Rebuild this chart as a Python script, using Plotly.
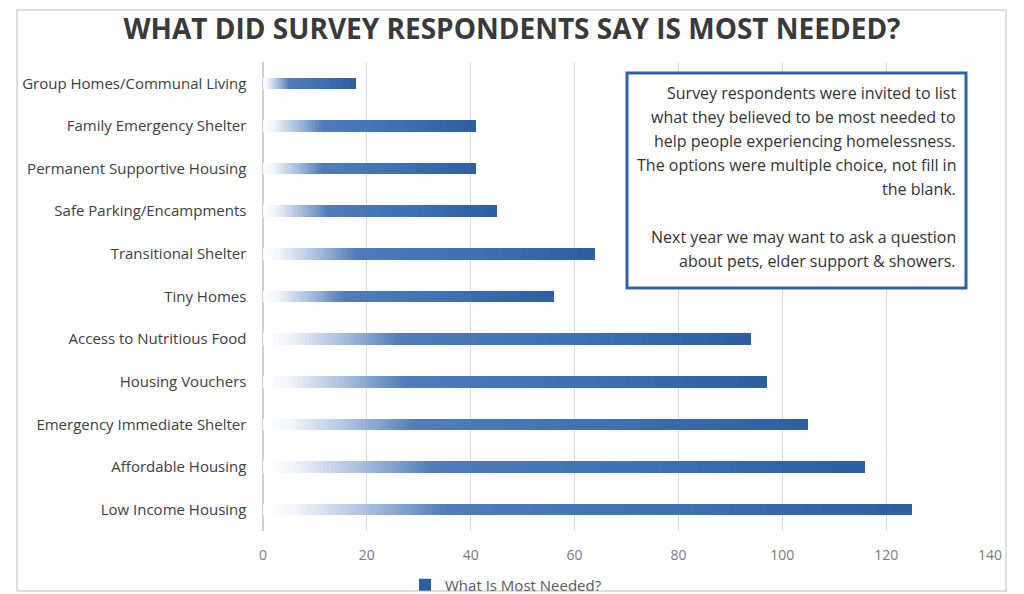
import plotly.graph_objects as go

categories = [
    "Low Income Housing",
    "Affordable Housing",
    "Emergency Immediate Shelter",
    "Housing Vouchers",
    "Access to Nutritious Food",
    "Tiny Homes",
    "Transitional Shelter",
    "Safe Parking/Encampments",
    "Permanent Supportive Housing",
    "Family Emergency Shelter",
    "Group Homes/Communal Living",
]
values = [125, 116, 105, 97, 94, 56, 64, 45, 41, 41, 18]
series_name = "What Is Most Needed?"
x_ticks = [0, 20, 40, 60, 80, 100, 120, 140]

title_text = "WHAT DID SURVEY RESPONDENTS SAY IS MOST NEEDED?"
note_lines = [
    "Survey respondents were invited to list",
    "what they believed to be most needed to",
    "help people experiencing homelessness.",
    "The options were multiple choice, not fill in",
    "the blank.",
    "",
    "Next year we may want to ask a question",
    "about pets, elder support & showers.",
]

# gradient stops (fraction of bar length -> rgb)
stops = [(0.0, (255, 255, 255)), (0.05, (242, 245, 250)), (0.16, (170, 192, 222)),
         (0.28, (80, 125, 186)), (0.6, (66, 114, 180)), (1.0, (44, 94, 160))]


def color_at(f):
    for (f0, c0), (f1, c1) in zip(stops[:-1], stops[1:]):
        if f0 <= f <= f1:
            t = (f - f0) / (f1 - f0) if f1 > f0 else 0
            return tuple(round(a + (b - a) * t) for a, b in zip(c0, c1))
    return stops[-1][1]


edges = [i * 0.3 / 45 for i in range(0, 46)] + [0.3 + i * 0.7 / 25 for i in range(1, 26)]

fig = go.Figure()
for k in range(len(edges) - 1):
    f0, f1 = edges[k], edges[k + 1]
    c = color_at((f0 + f1) / 2)
    last = k == len(edges) - 2
    fig.add_trace(go.Bar(
        y=categories,
        x=[v * (f1 - f0) for v in values],
        orientation="h",
        marker=dict(color="rgb(%d,%d,%d)" % c, line=dict(width=0)),
        name=series_name,
        showlegend=last,
        hoverinfo="skip",
    ))

L, R, T, B = 263, 34, 62, 63
PW, PH = 1024 - L - R, 594 - T - B


def px(x):
    return (x - L) / PW


def py(y):
    return (594 - B - y) / PH


annotations = []
line_y = [93, 117, 141, 165, 189, 213, 237, 261]
for txt, yy in zip(note_lines, line_y):
    if not txt:
        continue
    annotations.append(dict(text=txt, xref="paper", yref="paper", x=px(958), y=py(yy),
                            xanchor="right", yanchor="middle", showarrow=False,
                            font=dict(size=16, color="#333333")))

fig.update_layout(
    barmode="stack",
    bargap=0.73,
    width=1024, height=594,
    margin=dict(l=L, r=R, t=T, b=B, autoexpand=False),
    paper_bgcolor="white",
    plot_bgcolor="white",
    font=dict(family="Open Sans", color="#404040"),
    title=dict(text="<b>" + title_text + "</b>", x=0.5, xanchor="center",
               y=1 - 29 / 594, yanchor="middle",
               font=dict(family="Open Sans", size=28, color="#3a3a3a")),
    xaxis=dict(range=[0, 140], tickvals=x_ticks, showgrid=True, automargin=False,
               gridcolor="#d9d9d9", gridwidth=1, zeroline=True, zerolinecolor="#d0d0d0",
               tickfont=dict(size=14, color="#7a7a7a"), ticks="", showline=False,
               ticklabelstandoff=14),
    yaxis=dict(categoryorder="array", categoryarray=categories, automargin=False,
               tickfont=dict(size=15, color="#404040"), ticks="", ticklen=0,
               ticksuffix="    ", showgrid=False),
    legend=dict(orientation="h", x=px(405), xanchor="left", y=py(585), yanchor="middle",
                font=dict(size=15, color="#595959"), itemwidth=30,
                bgcolor="rgba(0,0,0,0)"),
    shapes=[
        dict(type="rect", xref="paper", yref="paper", x0=px(17), x1=px(1006),
             y0=py(591), y1=py(10), line=dict(color="#d4d4d4", width=1.5)),
        dict(type="rect", xref="paper", yref="paper", x0=px(627), x1=px(966),
             y0=py(288), y1=py(73), line=dict(color="#2f62a5", width=3),
             fillcolor="white", layer="above"),
    ],
    annotations=annotations,
)

fig.write_html("out.html")
